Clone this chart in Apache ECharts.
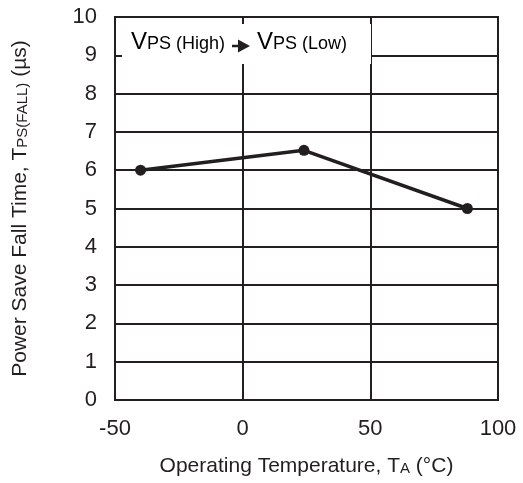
<!DOCTYPE html>
<html>
<head>
<meta charset="utf-8">
<script src="https://cdn.jsdelivr.net/npm/echarts@6/dist/echarts.min.js"></script>
<style>
  html, body { margin: 0; padding: 0; background: #fff; }
  #chart { width: 523px; height: 483px; }
</style>
</head>
<body>
<div id="chart"></div>
<script>
// Power save fall time vs. operating temperature
const temperatures = [-40, 24, 88];        // °C
const fallTimes = [6.0, 6.52, 5.0];        // µs
const xTicks = { min: -50, max: 100, step: 50 };
const yTicks = { min: 0, max: 10, step: 1 };

const ink = '#231f20';
const font = '"Liberation Sans", Arial, sans-serif';

const chart = echarts.init(document.getElementById('chart'), null, { renderer: 'canvas' });

const titleRich = {
  a: { fontSize: 21, fontFamily: font, color: ink, verticalAlign: 'bottom', lineHeight: 23 },
  b: { fontSize: 15, fontFamily: font, color: ink, verticalAlign: 'bottom', lineHeight: 23, padding: [0, 0, 1, 0] }
};

const noteRich = {
  v: { fontSize: 24, fontFamily: font, color: ink, verticalAlign: 'bottom', lineHeight: 26 },
  s: { fontSize: 18, fontFamily: font, color: ink, verticalAlign: 'bottom', lineHeight: 26, padding: [0, 0, 1, 0] }
};

chart.setOption({
  animation: false,
  backgroundColor: '#fff',
  grid: {
    left: 115, right: 25, top: 17, bottom: 83,
    show: true, borderColor: ink, borderWidth: 2
  },
  xAxis: {
    type: 'value',
    min: xTicks.min, max: xTicks.max, interval: xTicks.step,
    name: '{a|Operating Temperature, T}{b|A}{a| (°C)}',
    nameLocation: 'middle', nameGap: 54,
    nameTextStyle: { rich: titleRich },
    axisLine: { show: true, lineStyle: { color: ink, width: 2 } },
    axisTick: { show: false },
    axisLabel: { fontSize: 22, fontFamily: font, color: ink, margin: 18 },
    splitLine: { show: true, lineStyle: { color: ink, width: 2 } }
  },
  yAxis: {
    type: 'value',
    min: yTicks.min, max: yTicks.max, interval: yTicks.step,
    name: '{a|Power Save Fall Time, T}{b|PS(FALL)}{a| (µs)}',
    nameLocation: 'middle', nameGap: 84,
    nameTextStyle: { rich: titleRich },
    axisLine: { show: true, lineStyle: { color: ink, width: 2 } },
    axisTick: { show: false },
    axisLabel: { fontSize: 22, fontFamily: font, color: ink, margin: 18 },
    splitLine: { show: true, lineStyle: { color: ink, width: 2 } }
  },
  graphic: [
    // blank panel behind the transition note
    { type: 'rect', z: 1, shape: { x: 122, y: 24, width: 249, height: 40 },
      style: { fill: '#fff' } },
    { type: 'text', z: 3, x: 131, y: 54,
      style: { text: '{v|V}{s|PS (High)}', rich: noteRich, verticalAlign: 'bottom', textVerticalAlign: 'bottom' } },
    { type: 'line', z: 3, shape: { x1: 232, y1: 46, x2: 240, y2: 46 },
      style: { stroke: ink, lineWidth: 2.5 } },
    { type: 'polygon', z: 3, shape: { points: [[238, 39.5], [250, 46], [238, 52.5]] },
      style: { fill: ink } },
    { type: 'text', z: 3, x: 257, y: 54,
      style: { text: '{v|V}{s|PS (Low)}', rich: noteRich, verticalAlign: 'bottom', textVerticalAlign: 'bottom' } }
  ],
  series: [{
    type: 'line',
    z: 5,
    data: temperatures.map((t, i) => [t, fallTimes[i]]),
    symbol: 'circle',
    symbolSize: 11,
    itemStyle: { color: ink },
    lineStyle: { color: ink, width: 3.5 }
  }]
});
</script>
</body>
</html>
